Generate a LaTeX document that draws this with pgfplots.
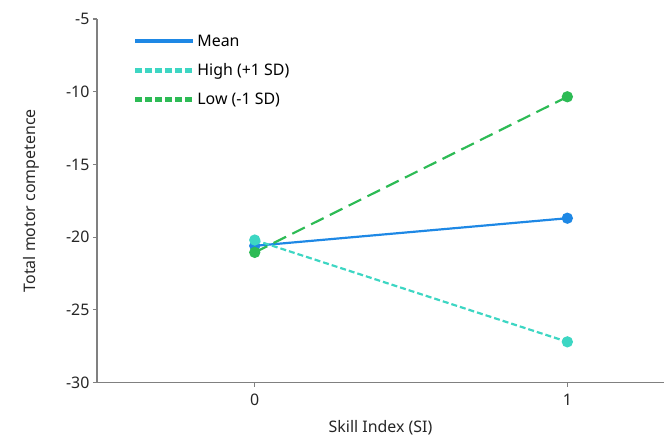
\documentclass[border=0pt]{standalone}
\usepackage{pgfplots}
\pgfplotsset{compat=1.18}
\usepackage{fontspec}
\setmainfont{Noto Sans}
\definecolor{cmean}{HTML}{1E88E5}
\definecolor{chigh}{HTML}{3DD6C3}
\definecolor{clow}{HTML}{2DBB55}
\definecolor{axgray}{HTML}{808080}
\begin{document}
\begin{tikzpicture}[x=1bp,y=1bp]
\path (0,0) rectangle (665,437);
\begin{axis}[
  at={(97bp,54bp)}, anchor=south west,
  scale only axis, width=568bp, height=364bp,
  xmin=-0.505, xmax=1.31, ymin=-30, ymax=-5,
  axis x line*=bottom, axis y line*=left,
  axis line style={axgray, line width=1.5pt},
  xtick={0,1}, ytick={-30,-25,-20,-15,-10,-5},
  tick align=outside, major tick length=4bp,
  tick style={axgray, line width=1.2pt},
  ticklabel style={font=\fontsize{16}{18}\selectfont, text=black!85},
  xticklabel style={yshift=-4bp},
  /pgf/number format/assume math mode=true,
  xlabel={Skill Index (SI)}, ylabel={Total motor competence},
  label style={font=\fontsize{16}{18}\selectfont, text=black!85},
  xlabel style={yshift=-8bp},
  ylabel style={yshift=20bp},
  legend style={at={(0.058,0.968)}, anchor=north west, draw=none, fill=none,
    font=\fontsize{16}{18}\selectfont, row sep=12bp},
  legend cell align=left,
]
\addplot[cmean, line width=2.2pt, mark=*, mark size=4.5bp, mark options={solid},
  legend image code/.code={\draw[cmean, line width=4pt] (0bp,0bp) -- (58bp,0bp);}] coordinates {(0,-20.6) (1,-18.7)};
\addlegendentry{Mean}
\addplot[chigh, line width=2.2pt, dash pattern=on 6bp off 3bp, mark=*, mark size=4.5bp, mark options={solid},
  legend image code/.code={\draw[chigh, line width=4.5pt, dash pattern=on 7bp off 3bp] (0bp,0bp) -- (58bp,0bp);}] coordinates {(0,-20.2) (1,-27.2)};
\addlegendentry{High (+1 SD)}
\addplot[clow, line width=2.2pt, dash pattern=on 14bp off 7bp, mark=*, mark size=4.5bp, mark options={solid},
  legend image code/.code={\draw[clow, line width=4.5pt, dash pattern=on 7bp off 3bp] (0bp,0bp) -- (58bp,0bp);}] coordinates {(0,-21.05) (1,-10.35)};
\addlegendentry{Low (-1 SD)}
\end{axis}
\end{tikzpicture}
\end{document}
